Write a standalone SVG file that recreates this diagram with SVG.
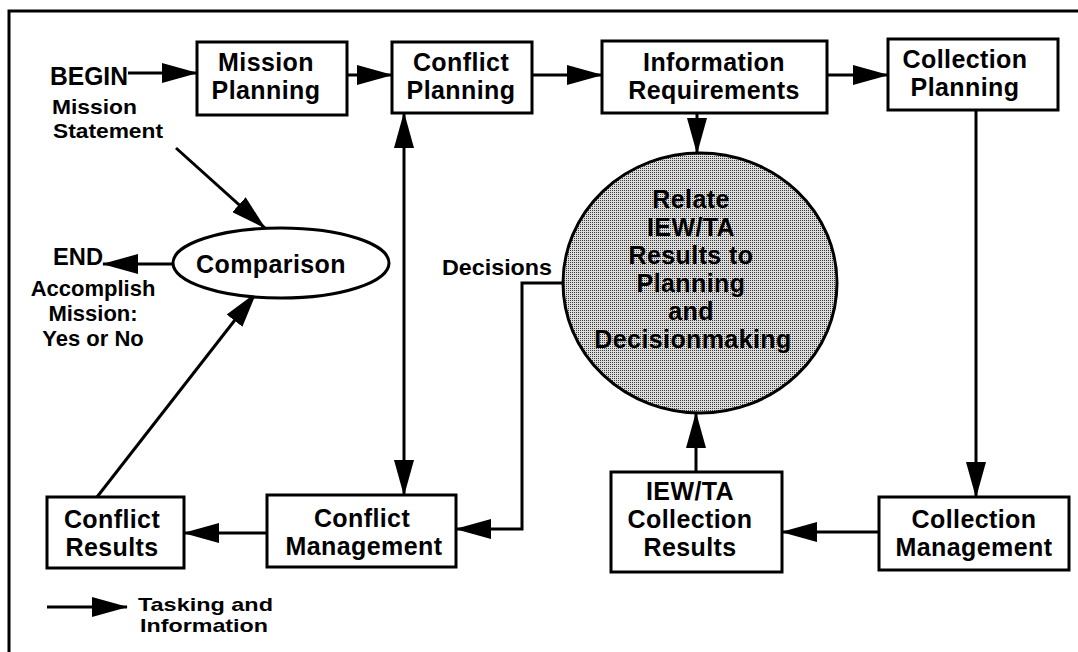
<svg xmlns="http://www.w3.org/2000/svg" width="1078" height="652" viewBox="0 0 1078 652">
<style>
text{font-family:"Liberation Sans",Arial,Helvetica,sans-serif;font-weight:bold;fill:#000}
.t26{font-size:25px;text-anchor:middle;letter-spacing:0.4px}
.t23{font-size:21px}
.box{fill:#fff;stroke:#000;stroke-width:3}
.ln{fill:none;stroke:#000;stroke-width:3}
.arr{fill:none;stroke:#000;stroke-width:3;marker-end:url(#ah)}
</style>
<defs>
<marker id="ah" viewBox="0 0 36 20" refX="35" refY="10" markerWidth="36" markerHeight="20" markerUnits="userSpaceOnUse" orient="auto"><path d="M0,0 L36,10 L0,20 Z" fill="#000"/></marker>
<marker id="ahs" viewBox="0 0 36 20" refX="1" refY="10" markerWidth="36" markerHeight="20" markerUnits="userSpaceOnUse" orient="auto"><path d="M36,0 L0,10 L36,20 Z" fill="#000"/></marker>
<pattern id="dots" width="2" height="2" patternUnits="userSpaceOnUse"><rect width="2" height="2" fill="#dcdcdc"/><rect width="1" height="1" fill="#3a3a3a"/></pattern>
</defs>
<rect width="1078" height="652" fill="#fff"/>
<g id="frame"><path class="ln" d="M9,652 V11 H1078"/></g>

<g id="connectors">
<line class="arr" x1="128" y1="73" x2="197" y2="73"/>
<line class="arr" x1="347" y1="75" x2="392" y2="75"/>
<line class="arr" x1="532" y1="75" x2="602" y2="75"/>
<line class="arr" x1="827" y1="75" x2="888" y2="75"/>
<line class="arr" x1="697" y1="112" x2="697" y2="153"/>
<line class="arr" x1="976" y1="110" x2="976" y2="497"/>
<line class="arr" x1="879" y1="532" x2="782" y2="532"/>
<line class="arr" x1="696" y1="472" x2="696" y2="413"/>
<polyline class="arr" points="563,283 522,283 522,529 456,529"/>
<line class="arr" x1="404" y1="113" x2="404" y2="495" style="marker-start:url(#ahs)"/>
<line class="arr" x1="267" y1="533" x2="184" y2="533"/>
<line class="arr" x1="97" y1="497" x2="256" y2="293"/>
<line class="arr" x1="176" y1="148" x2="265" y2="228"/>
<line class="arr" x1="174" y1="264" x2="103" y2="264"/>
<line class="arr" x1="47" y1="607" x2="127" y2="607"/>
</g>

<g id="mission-planning"><rect class="box" x="197" y="42" width="150" height="73"/>
<text class="t26" x="266" y="71">Mission</text><text class="t26" x="266" y="99">Planning</text></g>

<g id="conflict-planning"><rect class="box" x="392" y="42" width="140" height="71"/>
<text class="t26" x="461" y="71">Conflict</text><text class="t26" x="461" y="99">Planning</text></g>

<g id="information-requirements"><rect class="box" x="602" y="41" width="225" height="72"/>
<text class="t26" x="714" y="71">Information</text><text class="t26" x="714" y="99">Requirements</text></g>

<g id="collection-planning"><rect class="box" x="888" y="39" width="170" height="71"/>
<text class="t26" x="965" y="68">Collection</text><text class="t26" x="965" y="96">Planning</text></g>

<g id="relate"><ellipse cx="700" cy="283" rx="137" ry="130" fill="url(#dots)" stroke="#000" stroke-width="3"/>
<text class="t26" x="691" y="208">Relate</text>
<text class="t26" x="691" y="236">IEW/TA</text>
<text class="t26" x="691" y="264">Results to</text>
<text class="t26" x="691" y="292">Planning</text>
<text class="t26" x="691" y="320">and</text>
<text class="t26" x="693" y="348">Decisionmaking</text></g>

<g id="comparison"><ellipse cx="281" cy="263" rx="108" ry="35" fill="#fff" stroke="#000" stroke-width="3"/>
<text class="t26" x="271" y="273">Comparison</text></g>

<g id="begin"><text x="50" y="85" style="font-size:26px" textLength="78" lengthAdjust="spacingAndGlyphs">BEGIN</text>
<text class="t23" x="52" y="114" textLength="85" lengthAdjust="spacingAndGlyphs">Mission</text><text class="t23" x="53" y="138" textLength="110" lengthAdjust="spacingAndGlyphs">Statement</text></g>

<g id="end"><text x="53" y="265" style="font-size:24px" textLength="50" lengthAdjust="spacingAndGlyphs">END</text>
<text class="t23" x="93" y="296" text-anchor="middle" style="font-size:22px">Accomplish</text>
<text class="t23" x="93" y="321" text-anchor="middle" style="font-size:22px">Mission:</text>
<text class="t23" x="93" y="346" text-anchor="middle" style="font-size:22px">Yes or No</text></g>

<g id="decisions-label"><text x="442" y="275" style="font-size:22px" textLength="110" lengthAdjust="spacingAndGlyphs">Decisions</text></g>

<g id="collection-management"><rect class="box" x="879" y="497" width="190" height="73"/>
<text class="t26" x="974" y="528">Collection</text><text class="t26" x="974" y="556">Management</text></g>

<g id="iewta-collection-results"><rect class="box" x="611" y="472" width="171" height="100"/>
<text class="t26" x="690" y="500">IEW/TA</text><text class="t26" x="690" y="528">Collection</text><text class="t26" x="690" y="556">Results</text></g>

<g id="conflict-management"><rect class="box" x="267" y="495" width="189" height="72"/>
<text class="t26" x="362" y="527">Conflict</text><text class="t26" x="364" y="555">Management</text></g>

<g id="conflict-results"><rect class="box" x="47" y="497" width="137" height="71"/>
<text class="t26" x="112" y="528">Conflict</text><text class="t26" x="112" y="556">Results</text></g>

<g id="legend"><text x="138" y="611" style="font-size:19px" textLength="135" lengthAdjust="spacingAndGlyphs">Tasking and</text><text x="140" y="632" style="font-size:19px" textLength="128" lengthAdjust="spacingAndGlyphs">Information</text></g>
</svg>
